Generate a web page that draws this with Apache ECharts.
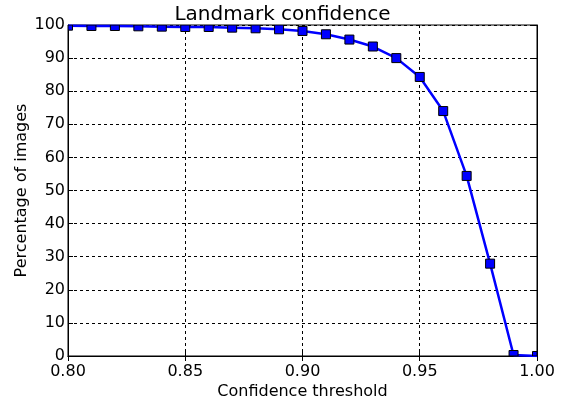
<!DOCTYPE html>
<html>
<head>
<meta charset="utf-8">
<script src="https://cdn.jsdelivr.net/npm/echarts@6/dist/echarts.min.js"></script>
<style>html,body{margin:0;padding:0;background:#fff}#c{width:565px;height:400px}</style>
</head>
<body>
<div id="c"></div>
<script>
var thresholds = [0.80,0.81,0.82,0.83,0.84,0.85,0.86,0.87,0.88,0.89,0.90,0.91,0.92,0.93,0.94,0.95,0.96,0.97,0.98,0.99,1.00];
var percentages = [99.8,99.7,99.7,99.6,99.5,99.4,99.4,99.2,99.0,98.7,98.2,97.2,95.6,93.5,90.0,84.3,74.0,54.4,27.9,0.3,0.0];
var xTicks = [0.80,0.85,0.90,0.95,1.00];
var yTicks = [0,10,20,30,40,50,60,70,80,90,100];

var font = 'DejaVu Sans';
var chart = echarts.init(document.getElementById('c'), null, {renderer:'canvas'});
var gridLine = {show:true, lineStyle:{color:'#000', type:[3,3], width:1}};
var pts = thresholds.map(function(t,i){return [t, percentages[i]];});
chart.setOption({
  animation:false,
  backgroundColor:'#fff',
  title:{text:'Landmark confidence', left:'center', top:0, textStyle:{fontFamily:font, fontWeight:'normal', fontSize:20, color:'#000'}},
  grid:{left:68, right:28, top:25, bottom:44, outerBoundsMode:'none', containLabel:false, show:true, borderColor:'#000', borderWidth:1, backgroundColor:'transparent'},
  xAxis:[{
    type:'value', min:xTicks[0], max:xTicks[xTicks.length-1], interval:0.05,
    name:'Confidence threshold', nameLocation:'middle', nameGap:28, nameMoveOverlap:false,
    nameTextStyle:{fontFamily:font, fontSize:16, color:'#000'},
    axisLine:{show:true, lineStyle:{color:'#000'}},
    axisTick:{show:true, inside:true, length:5, lineStyle:{color:'#000'}},
    axisLabel:{fontFamily:font, fontSize:16, color:'#000', margin:8, formatter:function(v){return v.toFixed(2);}},
    splitLine:gridLine
  },{
    type:'value', position:'top', min:xTicks[0], max:xTicks[xTicks.length-1], interval:0.05,
    axisLine:{show:true, lineStyle:{color:'#000'}},
    axisTick:{show:true, inside:true, length:5, lineStyle:{color:'#000'}},
    axisLabel:{show:false}, splitLine:{show:false}
  }],
  yAxis:[{
    type:'value', min:yTicks[0], max:yTicks[yTicks.length-1], interval:10,
    name:'Percentage of images', nameLocation:'middle', nameGap:38, nameMoveOverlap:false,
    nameTextStyle:{fontFamily:font, fontSize:16, color:'#000'},
    axisLine:{show:true, lineStyle:{color:'#000'}},
    axisTick:{show:true, inside:true, length:5, lineStyle:{color:'#000'}},
    axisLabel:{fontFamily:font, fontSize:16, color:'#000', margin:3},
    splitLine:gridLine
  },{
    type:'value', position:'right', min:yTicks[0], max:yTicks[yTicks.length-1], interval:10,
    axisLine:{show:true, lineStyle:{color:'#000'}},
    axisTick:{show:true, inside:true, length:5, lineStyle:{color:'#000'}},
    axisLabel:{show:false}, splitLine:{show:false}
  }],
  series:[{
    type:'line',
    data:pts,
    clip:true,
    showSymbol:false, symbol:'none',
    lineStyle:{color:'#0000ff', width:2.5},
    z:5
  },{
    type:'custom',
    data:pts,
    clip:true,
    z:6,
    renderItem:function(params, api){
      var c = api.coord([api.value(0), api.value(1)]);
      var s = 9;
      var r = echarts.graphic.clipRectByRect(
        {x:c[0]-s/2, y:c[1]-s/2, width:s, height:s},
        {x:params.coordSys.x, y:params.coordSys.y, width:params.coordSys.width, height:params.coordSys.height}
      );
      if(!r) return null;
      return {type:'rect', shape:r, style:{fill:'#0000ff', stroke:'#000', lineWidth:1}};
    }
  }]
});
</script>
</body>
</html>
